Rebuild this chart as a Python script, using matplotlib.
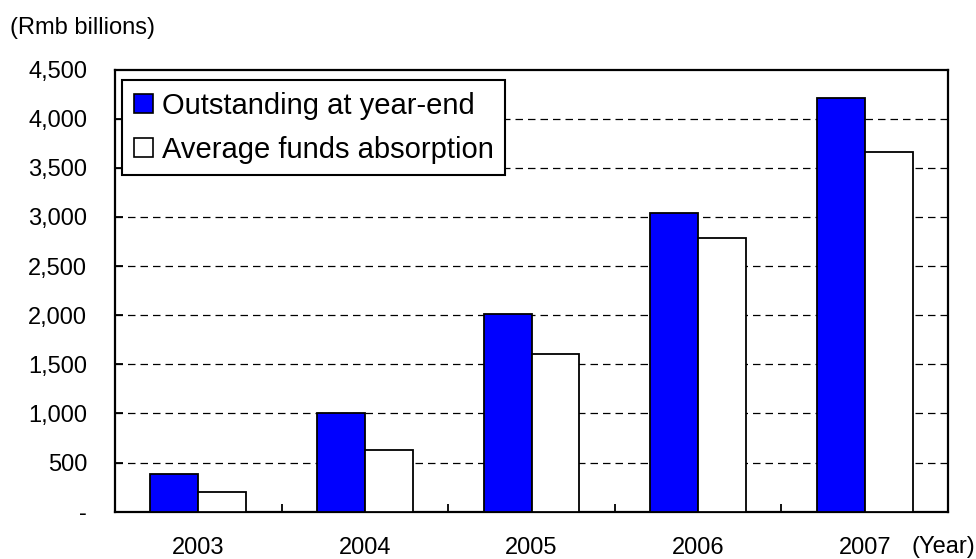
import matplotlib
matplotlib.use('Agg')
import matplotlib.pyplot as plt
from matplotlib.patches import Patch
import numpy as np

plt.rcParams['font.family'] = ['Liberation Sans', 'DejaVu Sans']

# %% Data
years = ['2003', '2004', '2005', '2006', '2007']
outstanding = [385, 1000, 2010, 3040, 4210]
avg_absorption = [200, 630, 1605, 2790, 3665]
ytick_vals = [0, 500, 1000, 1500, 2000, 2500, 3000, 3500, 4000, 4500]
ytick_labels = ['-', '500', '1,000', '1,500', '2,000', '2,500', '3,000',
                '3,500', '4,000', '4,500']

# %% Plot
fig = plt.figure(figsize=(9.76, 5.59), dpi=100)
ax = fig.add_axes([115 / 976, 47.3 / 559, 833 / 976, 442.2 / 559])

x = np.arange(len(years))
w = 0.288
ax.bar(x - w / 2, outstanding, w, color='#0000ff', edgecolor='black',
       linewidth=1.3, zorder=3)
ax.bar(x + w / 2, avg_absorption, w, color='white', edgecolor='black',
       linewidth=1.3, zorder=3)

# dashed gridlines (not at the top border)
for v in ytick_vals[1:-1]:
    ax.axhline(v, color='black', lw=0.9, ls=(0, (6, 4)), zorder=1)

ax.set_xlim(-0.5, len(years) - 0.5)
ax.set_ylim(0, 4500)

ax.set_yticks(ytick_vals)
ax.set_yticklabels(ytick_labels, fontsize=17)
ax.set_xticks(x)
ax.set_xticklabels(years, fontsize=17)
ax.set_xticks(np.arange(0.5, len(years) - 0.5, 1), minor=True)
ax.tick_params(axis='x', which='major', length=0, pad=18)
ax.tick_params(axis='x', which='minor', direction='in', length=6, width=1.3)
ax.tick_params(axis='y', direction='in', length=6, width=1.3, pad=20)

for s in ax.spines.values():
    s.set_linewidth(1.6)
    s.set_color('black')

handles = [Patch(facecolor='#0000ff', edgecolor='black', lw=1.2),
           Patch(facecolor='white', edgecolor='black', lw=1.2)]
leg = ax.legend(handles, ['Outstanding at year-end', 'Average funds absorption'],
                loc='upper left', bbox_to_anchor=(0.009, 0.976),
                borderaxespad=0, fontsize=21, handlelength=0.65,
                handleheight=0.65, handletextpad=0.3, labelspacing=0.55,
                borderpad=0.4, fancybox=False, framealpha=1,
                edgecolor='black')
leg.get_frame().set_linewidth(1.5)
leg.set_zorder(5)

fig.text(10 / 976, 1 - 28 / 559, '(Rmb billions)', fontsize=17,
         ha='left', va='center')
fig.text(1 - 1 / 976, 1 - 547 / 559, '(Year)', fontsize=17,
         ha='right', va='center')

plt.savefig('out.png', dpi=100)
